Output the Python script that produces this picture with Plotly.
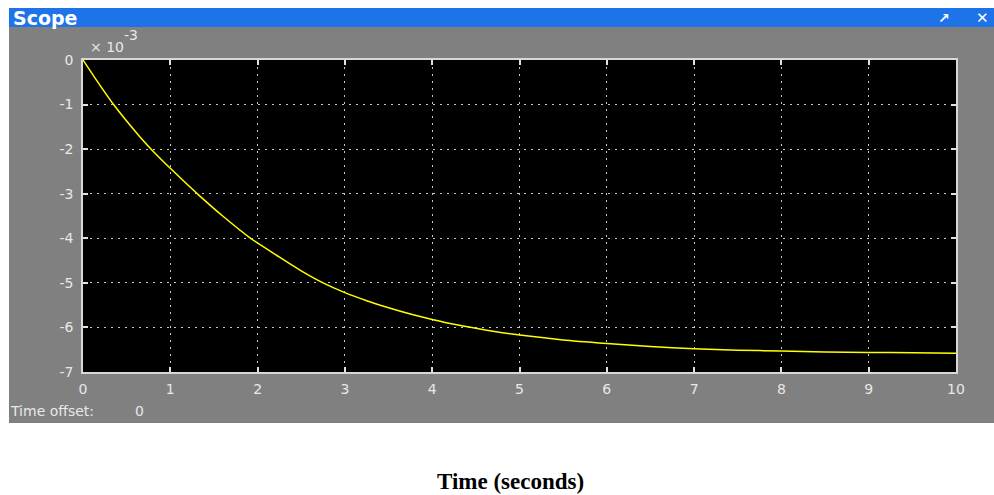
import plotly.graph_objects as go

# Data (values in units of 1e-3)
time_s = [0, 0.15, 0.35, 0.5, 0.65, 0.8, 1.0, 1.15, 1.32, 1.6, 1.92, 2.25, 2.5, 2.75, 3.0, 3.25, 3.5, 3.75,
          4.0, 4.25, 4.5, 4.75, 5.0, 5.5, 6.0, 6.5, 7.0, 7.5, 8.0, 8.5, 9.0, 9.5, 10.0]
signal_e3 = [0, -0.44, -1.0, -1.37, -1.72, -2.04, -2.43, -2.71, -3.02, -3.5, -4.0, -4.42, -4.73, -5.0, -5.22, -5.4,
             -5.56, -5.7, -5.82, -5.93, -6.02, -6.1, -6.17, -6.28, -6.36, -6.43, -6.48, -6.51, -6.53, -6.55,
             -6.56, -6.57, -6.58]
x_ticks = list(range(0, 11))
y_ticks = [0, -1, -2, -3, -4, -5, -6, -7]

W, H = 994, 495
L, R, T, B = 83, 38, 60, 123
PW, PH = W - L - R, H - T - B

def px(x):
    return (x - L) / PW

def py(y):
    return (H - B - y) / PH

fig = go.Figure()
fig.add_trace(go.Scatter(x=time_s, y=signal_e3, mode="lines",
                         line=dict(color="#FFFF00", width=1.5, shape="spline", smoothing=0.6), hoverinfo="skip"))

axis_common = dict(
    showline=True, linecolor="#D8D8D8", linewidth=1.5, mirror="ticks",
    ticks="inside", ticklen=5, tickcolor="#E0E0E0", tickwidth=1.5,
    showgrid=True, gridcolor="#C8C8C8", griddash="2px,5px", gridwidth=1,
    zeroline=False, fixedrange=True,
    tickfont=dict(family="DejaVu Sans", size=14, color="#E8E8E8"),
)

fig.update_xaxes(range=[0, 10], tickvals=x_ticks, ticktext=[str(v) for v in x_ticks], ticklabelstandoff=3, **axis_common)
fig.update_yaxes(range=[-7, 0], tickvals=y_ticks, ticktext=[str(v) for v in y_ticks], ticklabelstandoff=5, **axis_common)

shapes = [
    dict(type="rect", xref="paper", yref="paper", x0=px(9), x1=px(994), y0=py(423), y1=py(8),
         fillcolor="#808080", line=dict(width=0), layer="below"),
    dict(type="rect", xref="paper", yref="paper", x0=px(9), x1=px(994), y0=py(27), y1=py(8),
         fillcolor="#1E73E8", line=dict(width=0), layer="below"),
    dict(type="rect", xref="paper", yref="paper", x0=0, x1=1, y0=0, y1=1,
         fillcolor="black", line=dict(width=0), layer="below"),
]

lbl = dict(family="DejaVu Sans", size=14, color="#E8E8E8")
annotations = [
    dict(text="<b>Scope</b>", x=px(11), y=py(18), xref="paper", yref="paper", xanchor="left", yanchor="middle",
         showarrow=False, font=dict(family="DejaVu Sans", size=19, color="white")),
    dict(text="<b>↗</b>", x=px(944), y=py(18), xref="paper", yref="paper", xanchor="center", yanchor="middle",
         showarrow=False, font=dict(family="DejaVu Sans", size=14, color="white")),
    dict(text="<b>✕</b>", x=px(983), y=py(18), xref="paper", yref="paper", xanchor="center", yanchor="middle",
         showarrow=False, font=dict(family="DejaVu Sans", size=15, color="white")),
    dict(text="× 10", x=px(88), y=py(47), xref="paper", yref="paper", xanchor="left", yanchor="middle",
         showarrow=False, font=lbl),
    dict(text="-3", x=px(122), y=py(35), xref="paper", yref="paper", xanchor="left", yanchor="middle",
         showarrow=False, font=lbl),
    dict(text="Time offset:", x=px(8), y=py(411), xref="paper", yref="paper", xanchor="left", yanchor="middle",
         showarrow=False, font=lbl),
    dict(text="0", x=px(133), y=py(411), xref="paper", yref="paper", xanchor="left", yanchor="middle",
         showarrow=False, font=lbl),
    dict(text="<b>Time (seconds)</b>", x=px(510), y=py(481), xref="paper", yref="paper", xanchor="center", yanchor="middle",
         showarrow=False, font=dict(family="Liberation Serif", size=23, color="black")),
]

fig.update_layout(
    width=W, height=H, margin=dict(l=L, r=R, t=T, b=B),
    paper_bgcolor="white", plot_bgcolor="black", showlegend=False,
    shapes=shapes, annotations=annotations,
)

fig.write_html("out.html")
